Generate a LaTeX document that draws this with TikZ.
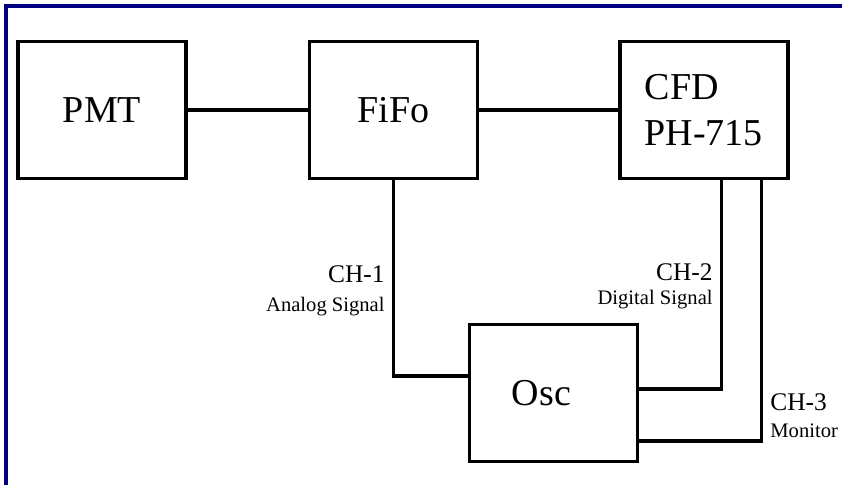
\documentclass[tikz,border=0pt]{standalone}
\usepackage{fontspec}
\setmainfont{Liberation Serif}
\usepackage{xcolor}
\usetikzlibrary{positioning}
\definecolor{framenavy}{RGB}{0,0,128}

\begin{document}
\begin{tikzpicture}[
    x=0.5pt,
    y=-0.5pt,
    unit/.style={
        draw,
        line width=1.7pt,
        minimum width=84pt,
        minimum height=68.5pt,
        align=center,
        font=\fontsize{19}{23}\selectfont
    },
    wire/.style={
        line width=1.6pt
    },
    chan/.style={
        inner sep=0pt,
        font=\fontsize{12.7}{14}\selectfont
    }
]
\useasboundingbox (0,0) rectangle (842,485);

% Frame
\draw[framenavy, line width=1.6pt] (6,485) -- (6,6) -- (842,6);

% Top row
\node[unit] (pmt) at (102,110) {PMT};

\node[unit, right=60pt of pmt] (fifo) {FiFo};

\node[unit, right=69.5pt of fifo, align=left] (cfd) {CFD\\PH-715};

% Scope
\node[unit] (osc) at (553.5,393) {Osc\hspace*{12pt}};

% Signal points
\coordinate (ch1in) at ([yshift=8.5pt]osc.west);
\coordinate (ch2out) at ([xshift=8.8pt]cfd.south);
\coordinate (ch2in) at ([yshift=2pt]osc.east);
\coordinate (ch3out) at ([xshift=28.8pt]cfd.south);
\coordinate (ch3in) at ([yshift=-24pt]osc.east);

% Wires
\draw[wire] (pmt) -- (fifo);
\draw[wire] (fifo) -- (cfd);
\draw[wire] (fifo.south) |- (ch1in);
\draw[wire] (ch2out) |- (ch2in);
\draw[wire] (ch3out) |- (ch3in);

% Channel labels
\node[chan, anchor=north east, align=right] (ch1) at (385,265)
    {CH-1\\[0.5pt]{\fontsize{10.3}{12}\selectfont Analog Signal}};
\node[chan, anchor=north east, align=right] (ch2) at (713,263)
    {CH-2\\[-2pt]{\fontsize{10.3}{12}\selectfont Digital Signal}};
\node[chan, anchor=north west, align=left] (ch3) at (770,393)
    {CH-3\\[-0.5pt]{\fontsize{10.3}{12}\selectfont Monitor}};

\end{tikzpicture}
\end{document}
